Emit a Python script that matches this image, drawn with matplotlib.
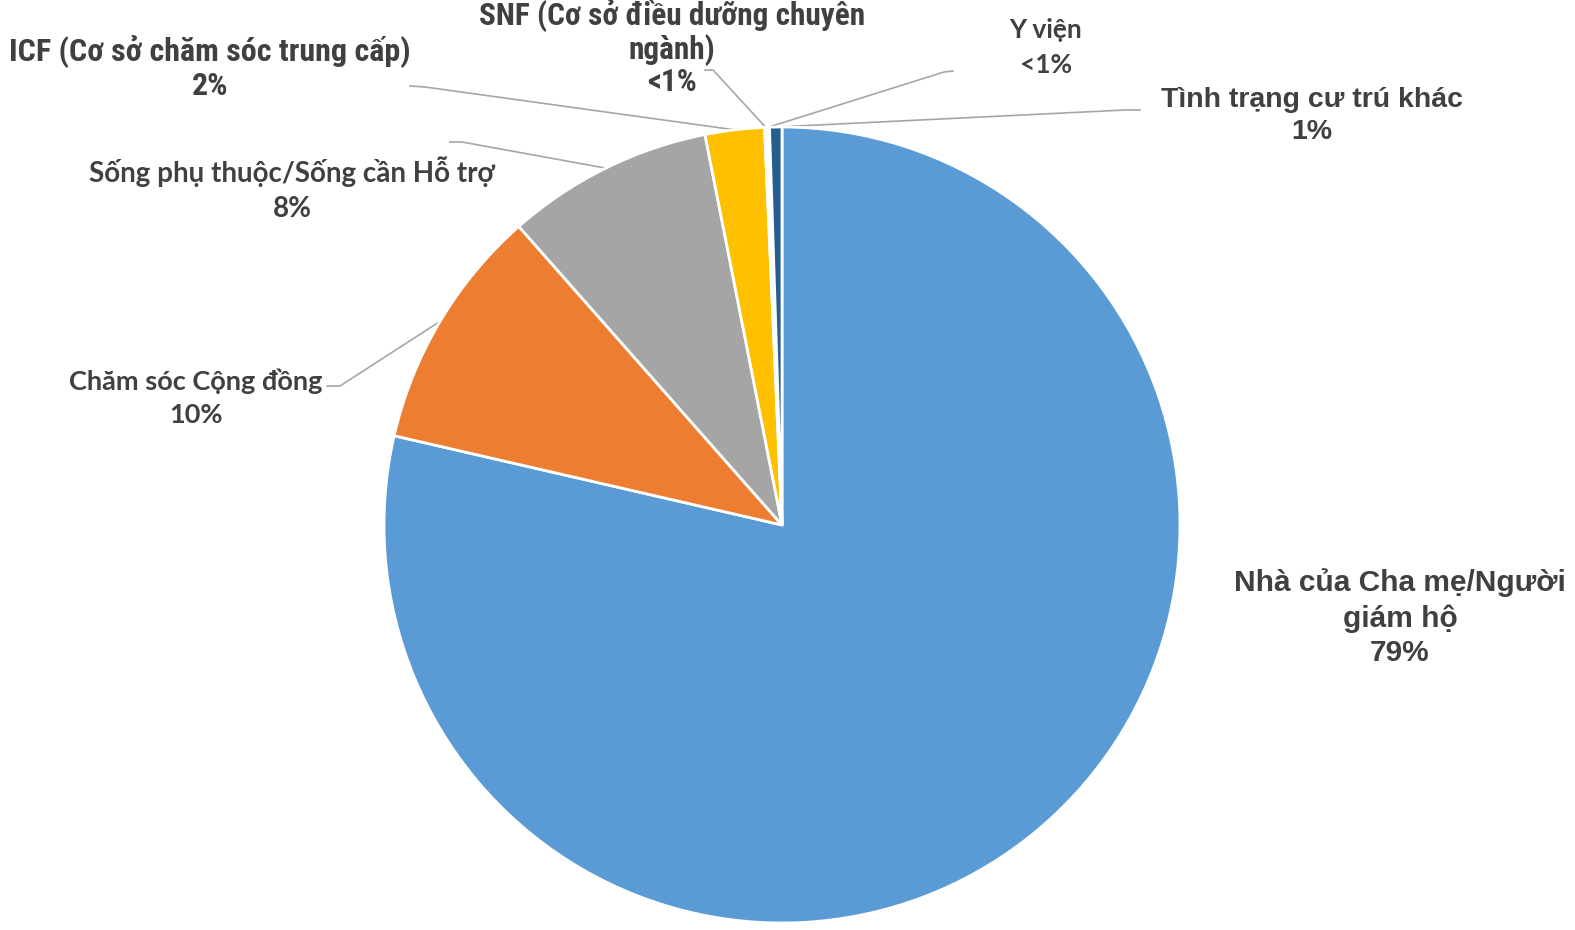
import math
import matplotlib
matplotlib.use("Agg")
import matplotlib.pyplot as plt

# nơi cư trú - tỷ lệ %
names = ["Nhà của Cha mẹ/Người\ngiám hộ",
         "Chăm sóc Cộng đồng",
         "Sống phụ thuộc/Sống cần Hỗ trợ",
         "ICF (Cơ sở chăm sóc trung cấp)",
         "SNF (Cơ sở điều dưỡng chuyên\nngành)",
         "Y viện",
         "Tình trạng cư trú khác"]
values = [78.6, 9.9, 8.4, 2.4, 0.1, 0.1, 0.5]
colors = ["#5B9BD5", "#ED7D31", "#A5A5A5", "#FFC000", "#4472C4", "#70AD47", "#255E91"]

W, H = 1575, 930
CX, CY, R = 782, 525, 398

# vị trí nhãn (pixel, gốc trên-trái) và điểm gãy của đường dẫn
label_xy = [(1400, 618), (196, 398), (292, 189), (210, 68), (672, 48), (1046, 47), (1312, 116)]
elbow = [None, [(327, 386), (340, 386)], [(450, 142), (462, 142)], [(410, 86), (425, 87)],
         [(705, 70), (713, 70)], [(953, 71), (944, 72)], [(1140, 110), (1125, 110)]]
narrow = ["Roboto Condensed", "Roboto", "DejaVu Sans"]
arial = ["Liberation Sans", "DejaVu Sans"]
calibri = ["Lato", "DejaVu Sans"]
fonts = [arial, calibri, calibri, narrow, narrow, calibri, arial]
sizes = [21.5, 19.5, 20, 23, 22.5, 19, 20.5]
spacing = [1.3, 1.45, 1.45, 1.12, 1.07, 1.55, 1.3]


def pct(v):
    if v < 0.5:
        return "<1%"
    return "%d%%" % math.floor(v + 0.5)


fig = plt.figure(figsize=(W / 100, H / 100), dpi=100)
ax = fig.add_axes([0, 0, 1, 1])

wedges, _ = ax.pie(values, colors=colors, startangle=90, counterclock=False,
                   center=(CX, H - CY), radius=R,
                   wedgeprops=dict(edgecolor="white", linewidth=2))

ax.set_xlim(0, W)
ax.set_ylim(0, H)
ax.set_aspect("equal")
ax.axis("off")

for i, w in enumerate(wedges):
    x, y = label_xy[i]
    ax.text(x, H - y, names[i] + "\n" + pct(values[i]), ha="center", va="center",
            fontsize=sizes[i], fontweight="bold", color="#404040",
            family=fonts[i], linespacing=spacing[i])
    if elbow[i] is None:
        continue
    mid = math.radians((w.theta1 + w.theta2) / 2)
    ex = CX + R * math.cos(mid)
    ey = (H - CY) + R * math.sin(mid)
    xs = [p[0] for p in elbow[i]] + [ex]
    ys = [H - p[1] for p in elbow[i]] + [ey]
    ax.plot(xs, ys, color="#A6A6A6", linewidth=1.2, zorder=0.5)

fig.savefig("out.png", dpi=100)
